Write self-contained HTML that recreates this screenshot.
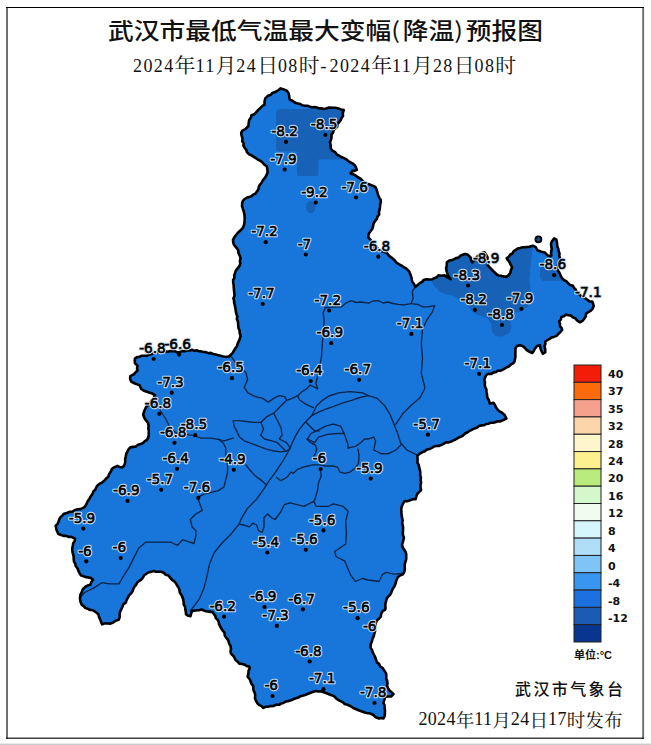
<!DOCTYPE html>
<html><head><meta charset="utf-8"><style>
html,body{margin:0;padding:0;background:#fff;}
body{width:651px;height:745px;position:relative;overflow:hidden;}
.t1{position:absolute;left:108px;top:13px;font-family:"Liberation Sans","Noto Sans CJK SC",sans-serif;font-weight:500;font-size:22.6px;color:#111;white-space:nowrap;transform:scaleX(1.14);transform-origin:0 0;}
.t1 .p{font-family:"Noto Sans CJK SC",sans-serif;font-weight:400;display:inline-block;width:10px;}
.t2{position:absolute;left:133px;top:49px;font-family:"Noto Serif CJK SC",serif;font-size:20.8px;color:#111;white-space:nowrap;}
.d{font-family:"Liberation Serif",serif;font-size:18px;letter-spacing:1.4px;position:relative;top:-0.8px;}
.b1{position:absolute;left:515px;top:676px;font-family:"Noto Sans CJK SC",sans-serif;font-weight:500;font-size:16px;letter-spacing:2.4px;color:#111;white-space:nowrap;}
.b2{position:absolute;left:418.5px;top:705.5px;font-family:"Noto Serif CJK SC",serif;font-size:18.6px;color:#111;white-space:nowrap;}
.d2{font-family:"Liberation Serif",serif;font-size:18px;letter-spacing:0.3px;position:relative;top:-2px;}
</style></head><body>
<svg width="651" height="745" viewBox="0 0 651 745" style="position:absolute;left:0;top:0">
<defs><clipPath id="cp"><path d="M280.7,88.4 L286.8,90.8 L289.1,95.4 L289.9,100.0 L296.0,103.0 L302.2,105.3 L310.0,106.9 L319.0,108.4 L326.1,108.4 L332.3,107.7 L338.4,108.4 L343.8,110.0 L343.0,116.1 L339.2,122.3 L335.4,128.4 L331.5,134.5 L330.0,142.2 L330.8,148.4 L336.9,154.5 L344.6,158.4 L350.0,162.2 L355.3,166.0 L356.9,169.9 L352.3,170.6 L350.7,173.7 L355.3,175.3 L360.0,178.3 L363.8,182.3 L370.0,184.6 L375.3,186.9 L377.6,193.0 L380.7,200.0 L380.0,206.9 L379.2,214.5 L375.3,220.7 L373.0,226.8 L369.2,233.0 L368.4,237.6 L371.5,242.2 L379.2,249.9 L386.9,252.9 L391.5,257.6 L396.1,262.2 L402.2,266.0 L406.1,268.4 L409.2,271.5 L411.5,277.6 L413.8,283.8 L415.4,286.8 L420.0,283.0 L426.1,279.2 L432.3,279.2 L438.4,275.3 L444.5,275.3 L447.6,277.6 L450.7,279.2 L447.6,274.5 L446.1,268.4 L446.9,262.3 L452.2,260.0 L458.4,257.6 L463.0,254.6 L467.6,254.6 L470.7,257.6 L472.2,262.3 L475.3,259.2 L479.9,254.6 L484.5,252.3 L487.6,257.6 L487.6,265.3 L492.2,270.0 L496.8,274.5 L501.1,275.7 L506.6,276.6 L510.3,272.9 L512.1,267.4 L509.4,261.9 L506.6,258.2 L510.3,254.5 L515.8,249.9 L520.0,248.0 L525.5,247.1 L529.2,246.7 L532.9,245.7 L535.7,247.1 L537.5,250.3 L541.2,251.7 L544.9,252.6 L547.6,255.4 L550.4,256.3 L551.3,255.4 L551.8,241.6 L554.1,238.4 L556.4,239.7 L557.3,246.2 L559.6,253.6 L560.1,258.2 L558.7,263.7 L556.9,268.3 L559.6,272.9 L561.0,276.6 L564.2,280.3 L567.9,283.1 L572.9,285.8 L575.7,289.5 L578.5,293.2 L582.2,296.9 L585.9,298.7 L589.5,301.5 L592.2,301.5 L593.7,306.1 L590.6,310.8 L586.0,313.8 L584.5,318.4 L579.9,322.3 L575.3,318.4 L570.7,315.4 L566.0,314.6 L561.4,316.9 L559.1,321.5 L559.9,326.1 L562.2,330.0 L558.4,333.8 L553.8,336.9 L549.2,339.2 L545.3,341.5 L544.5,346.1 L545.3,352.2 L543.0,353.8 L540.7,349.2 L539.9,345.3 L536.9,346.1 L534.6,349.2 L532.3,353.0 L529.2,351.5 L524.6,347.6 L520.0,345.3 L516.9,346.1 L515.4,350.7 L515.4,356.8 L514.6,361.4 L510.8,364.5 L506.1,367.6 L500.0,370.7 L493.5,372.4 L486.1,375.2 L484.2,379.8 L485.2,387.1 L487.0,394.5 L488.8,400.0 L489.8,403.7 L493.5,402.8 L495.3,405.6 L499.0,411.1 L504.5,414.8 L506.4,418.5 L502.7,420.3 L495.3,422.2 L486.1,424.0 L476.9,427.7 L467.6,432.3 L460.3,436.9 L452.9,440.6 L445.5,442.4 L441.4,444.9 L432.2,447.6 L424.8,451.3 L417.4,455.9 L417.4,462.4 L419.3,467.9 L420.2,475.3 L421.1,482.7 L421.1,490.0 L417.4,493.7 L415.6,499.3 L410.0,500.2 L404.5,501.1 L401.8,506.6 L401.8,515.9 L402.7,525.1 L403.0,530.0 L403.9,537.4 L402.0,544.7 L405.7,552.1 L405.7,561.3 L404.8,568.7 L403.0,574.2 L397.4,577.9 L395.6,583.5 L391.9,590.8 L388.2,596.4 L385.4,603.7 L385.4,609.3 L382.7,611.1 L380.8,616.6 L377.1,620.3 L375.3,625.9 L374.4,633.2 L372.5,638.8 L370.7,644.3 L370.5,647.6 L374.1,655.0 L376.9,662.4 L382.4,667.9 L386.1,673.5 L387.1,680.8 L388.0,688.2 L389.5,690.5 L393.5,694.0 L391.0,696.5 L386.5,696.5 L385.2,697.0 L383.4,703.0 L385.0,710.3 L383.5,718.5 L376.9,717.8 L371.4,714.0 L364.0,712.2 L358.5,710.3 L352.9,707.8 L347.4,704.8 L340.0,700.8 L332.7,695.6 L325.3,692.8 L316.1,691.0 L310.6,692.8 L303.2,695.6 L295.8,698.3 L288.4,701.1 L279.2,704.8 L270.6,706.1 L263.2,708.0 L259.5,705.2 L255.9,700.6 L254.9,693.2 L253.1,685.9 L250.3,680.3 L247.6,676.6 L248.5,671.1 L249.4,666.5 L244.8,664.7 L239.3,663.7 L235.6,660.0 L233.7,656.4 L231.0,653.6 L231.0,649.0 L229.1,643.5 L226.4,637.9 L222.7,630.6 L219.0,624.1 L215.3,615.8 L212.5,612.1 L206.1,611.2 L201.5,609.4 L196.9,610.3 L192.4,610.6 L190.6,616.1 L186.0,614.2 L185.1,606.9 L183.2,599.5 L179.5,590.3 L174.0,581.1 L168.5,575.5 L161.1,571.8 L153.7,570.9 L146.4,573.7 L139.0,581.1 L133.5,588.4 L127.9,597.6 L122.4,606.9 L119.6,614.2 L118.7,619.8 L113.2,622.5 L107.6,623.5 L102.1,624.4 L100.3,619.8 L98.4,614.2 L94.7,611.5 L87.4,608.7 L81.8,605.0 L80.0,597.6 L81.8,592.1 L85.5,586.6 L90.3,584.8 L93.0,579.5 L88.4,577.4 L81.1,575.6 L77.4,568.2 L73.7,559.0 L72.3,550.6 L73.2,543.2 L75.0,538.6 L71.3,536.8 L64.0,535.9 L58.4,534.0 L56.6,530.3 L55.7,525.7 L58.4,522.0 L60.3,517.4 L64.0,513.7 L69.5,511.9 L75.0,510.0 L80.6,509.1 L84.2,507.3 L87.9,500.8 L91.6,495.3 L95.3,489.8 L99.0,484.2 L104.5,480.6 L108.2,476.9 L111.0,471.3 L113.7,467.6 L117.4,465.8 L122.0,467.6 L124.8,464.0 L125.7,456.6 L127.6,451.1 L130.3,447.4 L135.9,446.5 L143.2,442.8 L146.9,440.0 L148.7,433.2 L148.7,425.9 L145.9,420.3 L143.2,414.8 L145.0,409.3 L148.7,404.7 L152.4,400.0 L155.2,395.4 L152.4,393.6 L146.9,391.8 L141.3,389.0 L139.5,385.3 L134.9,383.5 L131.2,381.6 L130.3,376.1 L134.0,374.2 L137.6,370.6 L137.6,365.9 L134.9,363.2 L134.9,358.6 L139.5,356.7 L146.9,355.8 L156.1,352.1 L165.3,351.2 L172.7,351.2 L180.0,352.1 L187.4,350.3 L196.6,350.3 L205.9,352.1 L213.2,354.0 L220.6,355.8 L229.0,356.5 L231.3,354.3 L235.0,348.8 L237.8,343.2 L240.6,335.9 L239.6,330.3 L237.8,321.1 L235.9,311.9 L234.1,302.7 L234.1,291.6 L233.2,282.4 L235.0,273.2 L239.6,265.8 L240.6,258.4 L238.4,253.0 L236.9,248.3 L233.8,244.5 L233.0,239.9 L234.6,236.8 L238.4,232.2 L243.0,227.6 L244.5,221.4 L244.5,215.3 L243.0,209.2 L242.2,203.0 L244.5,199.2 L249.2,196.9 L255.3,193.8 L258.4,189.2 L261.4,183.0 L264.5,178.4 L267.6,172.3 L266.8,166.5 L262.0,162.0 L256.1,158.3 L251.5,155.3 L246.9,152.2 L244.6,147.6 L242.3,141.4 L241.5,135.3 L242.3,130.7 L245.4,129.2 L248.4,126.0 L249.2,120.0 L251.5,115.3 L256.1,112.3 L260.7,107.6 L264.6,104.6 L265.3,98.4 L268.4,95.4 L274.5,92.3 L276.1,91.5 Z"/></clipPath></defs>
<rect x="6" y="7" width="2" height="732" fill="#6e6e6e"/>
<rect x="642.2" y="7" width="1.9" height="732" fill="#6e6e6e"/>
<rect x="6" y="7" width="638" height="1" fill="#000"/>
<rect x="6" y="737.6" width="638" height="1.2" fill="#111"/>
<rect x="0" y="743.6" width="651" height="1.4" fill="#c9cacd"/>
<path d="M280.7,88.4 L286.8,90.8 L289.1,95.4 L289.9,100.0 L296.0,103.0 L302.2,105.3 L310.0,106.9 L319.0,108.4 L326.1,108.4 L332.3,107.7 L338.4,108.4 L343.8,110.0 L343.0,116.1 L339.2,122.3 L335.4,128.4 L331.5,134.5 L330.0,142.2 L330.8,148.4 L336.9,154.5 L344.6,158.4 L350.0,162.2 L355.3,166.0 L356.9,169.9 L352.3,170.6 L350.7,173.7 L355.3,175.3 L360.0,178.3 L363.8,182.3 L370.0,184.6 L375.3,186.9 L377.6,193.0 L380.7,200.0 L380.0,206.9 L379.2,214.5 L375.3,220.7 L373.0,226.8 L369.2,233.0 L368.4,237.6 L371.5,242.2 L379.2,249.9 L386.9,252.9 L391.5,257.6 L396.1,262.2 L402.2,266.0 L406.1,268.4 L409.2,271.5 L411.5,277.6 L413.8,283.8 L415.4,286.8 L420.0,283.0 L426.1,279.2 L432.3,279.2 L438.4,275.3 L444.5,275.3 L447.6,277.6 L450.7,279.2 L447.6,274.5 L446.1,268.4 L446.9,262.3 L452.2,260.0 L458.4,257.6 L463.0,254.6 L467.6,254.6 L470.7,257.6 L472.2,262.3 L475.3,259.2 L479.9,254.6 L484.5,252.3 L487.6,257.6 L487.6,265.3 L492.2,270.0 L496.8,274.5 L501.1,275.7 L506.6,276.6 L510.3,272.9 L512.1,267.4 L509.4,261.9 L506.6,258.2 L510.3,254.5 L515.8,249.9 L520.0,248.0 L525.5,247.1 L529.2,246.7 L532.9,245.7 L535.7,247.1 L537.5,250.3 L541.2,251.7 L544.9,252.6 L547.6,255.4 L550.4,256.3 L551.3,255.4 L551.8,241.6 L554.1,238.4 L556.4,239.7 L557.3,246.2 L559.6,253.6 L560.1,258.2 L558.7,263.7 L556.9,268.3 L559.6,272.9 L561.0,276.6 L564.2,280.3 L567.9,283.1 L572.9,285.8 L575.7,289.5 L578.5,293.2 L582.2,296.9 L585.9,298.7 L589.5,301.5 L592.2,301.5 L593.7,306.1 L590.6,310.8 L586.0,313.8 L584.5,318.4 L579.9,322.3 L575.3,318.4 L570.7,315.4 L566.0,314.6 L561.4,316.9 L559.1,321.5 L559.9,326.1 L562.2,330.0 L558.4,333.8 L553.8,336.9 L549.2,339.2 L545.3,341.5 L544.5,346.1 L545.3,352.2 L543.0,353.8 L540.7,349.2 L539.9,345.3 L536.9,346.1 L534.6,349.2 L532.3,353.0 L529.2,351.5 L524.6,347.6 L520.0,345.3 L516.9,346.1 L515.4,350.7 L515.4,356.8 L514.6,361.4 L510.8,364.5 L506.1,367.6 L500.0,370.7 L493.5,372.4 L486.1,375.2 L484.2,379.8 L485.2,387.1 L487.0,394.5 L488.8,400.0 L489.8,403.7 L493.5,402.8 L495.3,405.6 L499.0,411.1 L504.5,414.8 L506.4,418.5 L502.7,420.3 L495.3,422.2 L486.1,424.0 L476.9,427.7 L467.6,432.3 L460.3,436.9 L452.9,440.6 L445.5,442.4 L441.4,444.9 L432.2,447.6 L424.8,451.3 L417.4,455.9 L417.4,462.4 L419.3,467.9 L420.2,475.3 L421.1,482.7 L421.1,490.0 L417.4,493.7 L415.6,499.3 L410.0,500.2 L404.5,501.1 L401.8,506.6 L401.8,515.9 L402.7,525.1 L403.0,530.0 L403.9,537.4 L402.0,544.7 L405.7,552.1 L405.7,561.3 L404.8,568.7 L403.0,574.2 L397.4,577.9 L395.6,583.5 L391.9,590.8 L388.2,596.4 L385.4,603.7 L385.4,609.3 L382.7,611.1 L380.8,616.6 L377.1,620.3 L375.3,625.9 L374.4,633.2 L372.5,638.8 L370.7,644.3 L370.5,647.6 L374.1,655.0 L376.9,662.4 L382.4,667.9 L386.1,673.5 L387.1,680.8 L388.0,688.2 L389.5,690.5 L393.5,694.0 L391.0,696.5 L386.5,696.5 L385.2,697.0 L383.4,703.0 L385.0,710.3 L383.5,718.5 L376.9,717.8 L371.4,714.0 L364.0,712.2 L358.5,710.3 L352.9,707.8 L347.4,704.8 L340.0,700.8 L332.7,695.6 L325.3,692.8 L316.1,691.0 L310.6,692.8 L303.2,695.6 L295.8,698.3 L288.4,701.1 L279.2,704.8 L270.6,706.1 L263.2,708.0 L259.5,705.2 L255.9,700.6 L254.9,693.2 L253.1,685.9 L250.3,680.3 L247.6,676.6 L248.5,671.1 L249.4,666.5 L244.8,664.7 L239.3,663.7 L235.6,660.0 L233.7,656.4 L231.0,653.6 L231.0,649.0 L229.1,643.5 L226.4,637.9 L222.7,630.6 L219.0,624.1 L215.3,615.8 L212.5,612.1 L206.1,611.2 L201.5,609.4 L196.9,610.3 L192.4,610.6 L190.6,616.1 L186.0,614.2 L185.1,606.9 L183.2,599.5 L179.5,590.3 L174.0,581.1 L168.5,575.5 L161.1,571.8 L153.7,570.9 L146.4,573.7 L139.0,581.1 L133.5,588.4 L127.9,597.6 L122.4,606.9 L119.6,614.2 L118.7,619.8 L113.2,622.5 L107.6,623.5 L102.1,624.4 L100.3,619.8 L98.4,614.2 L94.7,611.5 L87.4,608.7 L81.8,605.0 L80.0,597.6 L81.8,592.1 L85.5,586.6 L90.3,584.8 L93.0,579.5 L88.4,577.4 L81.1,575.6 L77.4,568.2 L73.7,559.0 L72.3,550.6 L73.2,543.2 L75.0,538.6 L71.3,536.8 L64.0,535.9 L58.4,534.0 L56.6,530.3 L55.7,525.7 L58.4,522.0 L60.3,517.4 L64.0,513.7 L69.5,511.9 L75.0,510.0 L80.6,509.1 L84.2,507.3 L87.9,500.8 L91.6,495.3 L95.3,489.8 L99.0,484.2 L104.5,480.6 L108.2,476.9 L111.0,471.3 L113.7,467.6 L117.4,465.8 L122.0,467.6 L124.8,464.0 L125.7,456.6 L127.6,451.1 L130.3,447.4 L135.9,446.5 L143.2,442.8 L146.9,440.0 L148.7,433.2 L148.7,425.9 L145.9,420.3 L143.2,414.8 L145.0,409.3 L148.7,404.7 L152.4,400.0 L155.2,395.4 L152.4,393.6 L146.9,391.8 L141.3,389.0 L139.5,385.3 L134.9,383.5 L131.2,381.6 L130.3,376.1 L134.0,374.2 L137.6,370.6 L137.6,365.9 L134.9,363.2 L134.9,358.6 L139.5,356.7 L146.9,355.8 L156.1,352.1 L165.3,351.2 L172.7,351.2 L180.0,352.1 L187.4,350.3 L196.6,350.3 L205.9,352.1 L213.2,354.0 L220.6,355.8 L229.0,356.5 L231.3,354.3 L235.0,348.8 L237.8,343.2 L240.6,335.9 L239.6,330.3 L237.8,321.1 L235.9,311.9 L234.1,302.7 L234.1,291.6 L233.2,282.4 L235.0,273.2 L239.6,265.8 L240.6,258.4 L238.4,253.0 L236.9,248.3 L233.8,244.5 L233.0,239.9 L234.6,236.8 L238.4,232.2 L243.0,227.6 L244.5,221.4 L244.5,215.3 L243.0,209.2 L242.2,203.0 L244.5,199.2 L249.2,196.9 L255.3,193.8 L258.4,189.2 L261.4,183.0 L264.5,178.4 L267.6,172.3 L266.8,166.5 L262.0,162.0 L256.1,158.3 L251.5,155.3 L246.9,152.2 L244.6,147.6 L242.3,141.4 L241.5,135.3 L242.3,130.7 L245.4,129.2 L248.4,126.0 L249.2,120.0 L251.5,115.3 L256.1,112.3 L260.7,107.6 L264.6,104.6 L265.3,98.4 L268.4,95.4 L274.5,92.3 L276.1,91.5 Z" fill="#1876db"/>
<g clip-path="url(#cp)" fill="#1762b6">
<path d="M276,113 Q276,109 280,109 L352,109 L352,159.5 L318.5,159.5 L318.5,173.5 Q318.5,176 316,176 L299.5,176 Q297,176 297,173.5 L297,151.5 L278.5,151.5 Q276,151.5 276,149 Z"/>
<path d="M310.7,201.3 C314,201.3 315.3,204 315.3,207.2 C315.3,210.8 313.6,213.2 310.7,213.2 C307.6,213.2 306.2,210.6 306.2,207.2 C306.2,204 307.6,201.3 310.7,201.3 Z"/>
<path d="M431.0,281.0 L435.0,286.5 L439.0,291.5 L445.0,294.0 L452.0,295.5 L459.0,298.5 L464.5,302.5 L469.0,307.0 L472.0,311.5 L476.3,314.6 L487.4,318.3 L491.0,323.8 L492.0,331.2 L494.8,335.8 L502.2,336.7 L509.5,333.0 L511.4,327.5 L510.4,318.3 L513.2,312.5 L520.9,312.0 L528.3,306.3 L530.7,294.1 L529.5,279.3 L530.7,264.6 L532.0,252.3 L533.2,240.0 L533.0,225.0 L425.0,225.0 Z"/>
<path d="M545,266 L562,266 L562,281 L545,281 Q540,281 540,276 L540,271 Q540,266 545,266 Z"/>
</g>
<g fill="none" stroke="#0a2448" stroke-width="1.35" stroke-linejoin="round" stroke-linecap="round">
<path d="M368.2,395.7 L362.7,392.9 L350.0,391.7 L338.8,392.9 L329.0,396.0 L321.6,400.9 L316.7,405.8 L314.2,410.7 L311.8,415.6 L305.6,421.8 L299.5,429.1 L294.6,437.7 L289.7,448.8 L283.5,460.0 L275.6,472.2 L270.0,479.5 L262.7,490.6 L256.6,499.2 L247.4,508.4 L241.9,517.6 L239.1,524.1 L230.8,534.2 L221.6,543.5 L214.2,552.7 L209.6,563.7 L206.9,576.6 L204.1,587.7 L199.5,598.8 L194.0,606.1 L190.3,611.0"/>
<path d="M311.8,415.6 L319.1,411.9 L326.5,408.9 L335.1,405.8 L343.7,402.7 L351.6,400.3 L360.0,397.5 L368.2,395.7"/>
<path d="M368.2,395.7 L377.4,398.4 L384.8,405.8 L390.3,415.0 L394.0,424.2 L397.7,433.5 L400.5,442.7 L406.9,450.0 L414.3,453.7 L418.0,455.5"/>
<path d="M415.4,286.8 L412.3,291.4 L413.0,299.0 L410.8,303.7 L417.6,304.4 L423.0,306.8 L427.4,306.9 L434.8,305.6 L432.3,311.8 L427.4,319.1 L422.5,329.0 L421.3,343.7 L422.5,358.5 L421.3,373.2 L425.0,388.0 L420.0,397.8 L410.6,405.8 L403.2,413.2 L395.9,424.2"/>
<path d="M325.1,307.6 L333.0,307.0 L341.4,306.9 L346.0,303.0 L351.3,300.7 L356.0,302.5 L361.1,302.0 L368.5,303.2 L373.0,301.0 L378.3,300.7 L383.0,303.0 L388.1,302.0 L393.0,303.5 L398.0,304.4 L404.0,304.8 L410.8,303.7"/>
<path d="M325.1,307.6 L323.2,313.2 L324.1,320.6 L323.2,331.6 L322.3,344.5 L321.4,357.4 L319.5,366.6 L317.7,375.9 L315.9,383.2 L317.7,388.8 L314.0,386.9 L310.3,385.1 L306.6,388.8 L301.1,392.4 L297.7,395.7 L292.2,398.4 L286.6,400.3 L284.8,396.6 L279.3,395.7 L273.7,398.4 L268.2,402.1 L262.7,398.4 L255.3,396.6 L247.9,392.9 L244.2,387.4 L247.6,379.5 L245.8,372.2 L238.4,366.6 L231.5,357.0"/>
<path d="M286.6,400.3 L281.1,405.8 L273.7,413.2 L266.4,416.9 L260.8,422.4 L253.5,422.4 L246.1,421.5 L238.7,420.6 L233.2,420.6 L234.1,426.1 L236.9,431.6 L239.6,437.1 L244.2,440.8 L251.6,443.6 L259.0,446.4 L266.4,449.1 L273.7,451.0 L281.1,451.9 L286.6,451.0 L289.7,448.8"/>
<path d="M260.8,422.4 L263.6,428.8 L260.8,435.3 L264.5,439.0 L271.9,440.8 L277.4,442.7 L281.1,446.4 L284.8,450.0"/>
<path d="M273.7,413.2 L277.4,420.6 L281.1,427.9 L282.0,435.3 L279.3,439.0 L286.6,442.7 L290.3,448.2"/>
<path d="M297.7,395.7 L299.5,399.7 L304.4,403.3 L309.3,405.8 L313.6,407.6"/>
<path d="M155.0,397.0 L160.5,411.0 L165.5,418.5 L169.1,425.8 L172.8,430.7 L179.0,434.4 L186.3,434.4 L193.7,435.7 L201.1,438.1 L210.9,438.1 L218.3,439.3 L223.2,443.0 L225.7,447.9 L225.7,457.8 L227.6,464.8 L227.6,472.2 L225.8,479.5 L224.0,486.9 L218.4,490.6 L211.0,492.4 L203.7,494.3 L197.6,497.4 L199.5,502.9 L202.3,510.3 L195.8,514.0 L190.3,519.5 L192.1,526.9 L195.8,530.6 L195.8,536.1 L194.0,543.5 L188.4,541.6 L182.9,539.8 L177.4,545.3 L170.6,542.1 L158.3,542.1 L146.0,542.1 L138.6,548.3 L133.7,558.1 L128.8,567.9 L123.9,575.3 L119.0,583.9 L109.1,583.9 L101.8,582.7 L94.4,587.6 L84.6,592.5 L80.5,597.4"/>
<path d="M218.3,439.3 L224.0,440.8 L233.2,438.1"/>
<path d="M246.0,465.0 L249.0,469.0 L255.3,475.9 L262.7,481.4 L266.4,485.1"/>
<path d="M239.1,524.1 L243.7,525.0 L249.3,526.9 L252.9,523.2 L256.6,525.0 L258.5,530.6 L262.2,532.4 L264.0,526.9 L264.0,517.6 L267.7,514.0 L271.4,517.6 L275.1,519.5 L280.6,512.1 L284.3,504.7 L290.0,502.9 L294.1,503.9 L303.9,506.3 L313.7,501.4 L316.2,506.3 L328.5,506.3 L333.4,503.9 L343.2,506.3 L348.1,511.3 L345.7,521.1 L346.4,533.4 L345.7,544.0 L334.7,551.5 L336.0,556.5 L344.8,561.2 L350.6,575.1 L355.5,581.5 L362.4,578.5 L367.8,580.0 L372.0,580.5 L379.0,581.5 L382.7,574.2 L386.4,572.4 L393.7,574.2 L403.0,573.5"/>
<path d="M320.3,468.5 L321.2,475.9 L318.4,483.2 L317.5,490.6 L314.7,500.0 L313.7,501.4"/>
<path d="M276.5,477.5 L281.0,480.7 L287.2,477.0 L290.9,472.1 L293.4,473.4 L297.0,469.7 L303.2,467.2 L308.1,466.0 L313.0,464.8 L320.4,464.8 L325.3,466.0 L332.7,466.0 L337.6,467.2 L340.0,472.1 L345.0,473.4 L349.9,472.1 L354.8,468.5 L358.5,463.5 L359.0,455.0 L358.0,449.0"/>
<path d="M307.4,439.0 L311.0,433.5 L318.4,429.8 L325.8,426.1 L333.2,424.2 L340.6,426.1 L344.2,433.5 L347.9,444.5 L347.9,448.2 L355.3,446.4 L360.8,442.7 L364.5,439.0 L368.2,439.0 L373.7,437.1 L375.6,440.8 L373.7,450.0 L381.1,453.7 L388.5,453.7 L395.9,450.0 L401.4,444.5"/>
<path d="M307.4,439.0 L314.7,442.7 L318.4,437.1 L327.6,434.4 L336.9,433.5 L344.2,433.5"/>
<path d="M305.6,421.8 L310.5,426.7 L314.2,430.4 L319.1,431.0"/>
<path d="M306.9,439.0 L310.5,442.7 L315.5,445.1 L316.7,448.8 L315.5,453.7 L313.0,457.4"/>
</g>
<path d="M280.7,88.4 L283.8,89.4 L286.8,90.8 L288.4,92.9 L289.1,95.4 L289.3,97.7 L289.9,100.0 L292.2,100.5 L293.9,102.0 L296.0,103.0 L298.1,103.6 L300.3,104.0 L302.2,105.3 L304.8,105.8 L307.5,105.7 L310.0,106.9 L312.3,107.2 L314.6,107.1 L316.8,107.5 L319.0,108.4 L321.4,108.3 L323.7,108.9 L326.1,108.4 L329.1,107.5 L332.3,107.7 L335.4,107.7 L338.4,108.4 L341.0,109.4 L343.8,110.0 L342.8,113.0 L343.0,116.1 L341.6,118.1 L340.6,120.3 L339.2,122.3 L337.4,124.0 L337.2,126.7 L335.4,128.4 L333.7,130.2 L333.0,132.6 L331.5,134.5 L331.5,137.2 L331.0,139.7 L330.0,142.2 L330.7,145.3 L330.8,148.4 L332.5,150.7 L335.2,152.2 L336.9,154.5 L339.4,155.9 L341.9,157.3 L344.6,158.4 L346.5,159.5 L348.2,161.0 L350.0,162.2 L353.0,163.6 L355.3,166.0 L356.9,169.9 L354.7,170.9 L352.3,170.6 L350.7,173.7 L353.1,174.1 L355.3,175.3 L357.5,177.0 L360.0,178.3 L362.0,180.2 L363.8,182.3 L366.0,182.8 L367.9,183.9 L370.0,184.6 L372.7,185.7 L375.3,186.9 L376.7,189.9 L377.6,193.0 L378.3,195.5 L379.4,197.8 L380.7,200.0 L380.8,202.3 L380.1,204.6 L380.0,206.9 L379.7,209.4 L378.9,211.9 L379.2,214.5 L377.6,216.4 L376.9,218.8 L375.3,220.7 L373.5,223.5 L373.0,226.8 L372.2,229.1 L370.6,231.0 L369.2,233.0 L368.4,235.2 L368.4,237.6 L370.4,239.6 L371.5,242.2 L373.4,244.1 L375.8,245.6 L377.1,248.1 L379.2,249.9 L381.6,251.2 L384.3,252.0 L386.9,252.9 L388.8,255.6 L391.5,257.6 L394.0,259.7 L396.1,262.2 L398.0,263.7 L400.1,264.8 L402.2,266.0 L404.1,267.3 L406.1,268.4 L409.2,271.5 L410.4,274.5 L411.5,277.6 L411.8,279.8 L412.4,281.9 L413.8,283.8 L415.4,286.8 L417.7,284.9 L420.0,283.0 L422.2,281.9 L423.7,279.9 L426.1,279.2 L429.2,279.5 L432.3,279.2 L434.4,278.1 L436.7,277.2 L438.4,275.3 L441.4,275.8 L444.5,275.3 L447.6,277.6 L450.7,279.2 L448.9,277.0 L447.6,274.5 L446.7,271.5 L446.1,268.4 L446.7,265.4 L446.9,262.3 L449.3,260.5 L452.2,260.0 L454.2,259.1 L456.2,258.0 L458.4,257.6 L460.4,255.7 L463.0,254.6 L465.3,254.0 L467.6,254.6 L470.7,257.6 L471.1,260.1 L472.2,262.3 L475.3,259.2 L477.2,256.5 L479.9,254.6 L482.0,253.1 L484.5,252.3 L486.2,254.9 L487.6,257.6 L487.1,260.2 L488.2,262.7 L487.6,265.3 L490.0,267.6 L492.2,270.0 L494.5,272.3 L496.8,274.5 L498.8,275.6 L501.1,275.7 L503.8,276.6 L506.6,276.6 L508.8,275.1 L510.3,272.9 L510.9,270.1 L512.1,267.4 L510.6,264.7 L509.4,261.9 L507.8,260.2 L506.6,258.2 L508.8,256.7 L510.3,254.5 L512.5,253.5 L513.7,251.1 L515.8,249.9 L517.7,248.5 L520.0,248.0 L522.7,247.2 L525.5,247.1 L529.2,246.7 L532.9,245.7 L535.7,247.1 L537.5,250.3 L541.2,251.7 L544.9,252.6 L547.6,255.4 L550.4,256.3 L551.3,255.4 L551.0,253.1 L551.4,250.8 L551.7,248.5 L551.3,246.2 L551.0,243.9 L551.8,241.6 L554.1,238.4 L556.4,239.7 L557.0,242.9 L557.3,246.2 L558.2,248.6 L558.7,251.2 L559.6,253.6 L559.2,256.0 L560.1,258.2 L559.1,260.9 L558.7,263.7 L557.8,266.0 L556.9,268.3 L558.1,270.7 L559.6,272.9 L561.0,276.6 L562.4,278.6 L564.2,280.3 L566.4,281.2 L567.9,283.1 L570.1,284.9 L572.9,285.8 L574.0,287.9 L575.7,289.5 L576.7,291.7 L578.5,293.2 L580.1,295.3 L582.2,296.9 L585.9,298.7 L587.8,300.0 L589.5,301.5 L592.2,301.5 L593.1,303.8 L593.7,306.1 L592.6,308.8 L590.6,310.8 L588.2,312.1 L586.0,313.8 L585.8,316.3 L584.5,318.4 L582.6,320.8 L579.9,322.3 L577.3,320.7 L575.3,318.4 L572.7,317.3 L570.7,315.4 L568.3,315.2 L566.0,314.6 L564.0,316.3 L561.4,316.9 L560.9,319.5 L559.1,321.5 L560.0,323.7 L559.9,326.1 L561.5,327.8 L562.2,330.0 L560.4,332.0 L558.4,333.8 L556.5,335.9 L553.8,336.9 L551.3,337.6 L549.2,339.2 L547.2,340.2 L545.3,341.5 L545.4,343.9 L544.5,346.1 L545.2,349.1 L545.3,352.2 L543.0,353.8 L541.7,351.6 L540.7,349.2 L539.9,345.3 L536.9,346.1 L534.6,349.2 L533.6,351.2 L532.3,353.0 L529.2,351.5 L526.6,350.0 L524.6,347.6 L522.5,346.0 L520.0,345.3 L516.9,346.1 L515.5,348.2 L515.4,350.7 L515.4,353.8 L515.4,356.8 L515.0,359.1 L514.6,361.4 L513.1,363.4 L510.8,364.5 L508.8,366.5 L506.1,367.6 L504.2,368.8 L502.2,370.0 L500.0,370.7 L497.7,370.8 L495.8,372.3 L493.5,372.4 L491.3,374.0 L488.3,373.7 L486.1,375.2 L485.1,377.5 L484.2,379.8 L485.0,382.2 L484.8,384.7 L485.2,387.1 L486.4,389.4 L486.4,392.0 L487.0,394.5 L487.3,397.5 L488.8,400.0 L489.8,403.7 L493.5,402.8 L495.3,405.6 L496.1,407.7 L497.5,409.4 L499.0,411.1 L501.0,412.1 L502.8,413.4 L504.5,414.8 L506.4,418.5 L502.7,420.3 L500.3,421.4 L497.7,421.2 L495.3,422.2 L493.0,422.6 L490.6,422.7 L488.4,423.8 L486.1,424.0 L483.9,425.3 L481.3,425.4 L478.9,426.1 L476.9,427.7 L474.4,428.4 L472.1,429.6 L469.7,430.8 L467.6,432.3 L465.0,433.5 L462.9,435.7 L460.3,436.9 L457.8,438.1 L455.5,439.5 L452.9,440.6 L450.6,441.8 L448.1,442.4 L445.5,442.4 L443.6,443.9 L441.4,444.9 L439.2,445.9 L436.7,446.0 L434.3,446.3 L432.2,447.6 L429.8,448.9 L427.0,449.5 L424.8,451.3 L422.0,452.3 L419.5,453.8 L417.4,455.9 L417.6,459.1 L417.4,462.4 L418.7,465.0 L419.3,467.9 L420.0,470.3 L420.3,472.8 L420.2,475.3 L420.9,477.7 L420.6,480.3 L421.1,482.7 L420.5,485.1 L420.6,487.6 L421.1,490.0 L419.3,491.9 L417.4,493.7 L416.3,496.4 L415.6,499.3 L412.7,499.3 L410.0,500.2 L407.3,501.2 L404.5,501.1 L402.9,503.8 L401.8,506.6 L401.2,508.9 L401.4,511.2 L401.4,513.6 L401.8,515.9 L402.1,518.2 L402.7,520.5 L402.1,522.8 L402.7,525.1 L403.1,527.5 L403.0,530.0 L402.9,532.5 L402.9,535.0 L403.9,537.4 L403.4,539.9 L402.8,542.3 L402.0,544.7 L402.7,547.4 L404.2,549.8 L405.7,552.1 L406.2,554.4 L406.2,556.7 L406.2,559.0 L405.7,561.3 L404.8,563.7 L404.7,566.2 L404.8,568.7 L404.4,571.6 L403.0,574.2 L400.9,575.1 L398.9,576.1 L397.4,577.9 L396.3,580.6 L395.6,583.5 L394.6,586.0 L393.1,588.3 L391.9,590.8 L391.1,593.0 L390.0,594.9 L388.2,596.4 L386.7,598.6 L386.1,601.2 L385.4,603.7 L385.4,606.5 L385.4,609.3 L382.7,611.1 L381.2,613.7 L380.8,616.6 L379.0,618.5 L377.1,620.3 L375.7,622.9 L375.3,625.9 L374.5,628.3 L375.1,630.8 L374.4,633.2 L373.8,636.1 L372.5,638.8 L371.9,641.6 L370.7,644.3 L370.5,647.6 L372.0,649.9 L372.8,652.6 L374.1,655.0 L375.3,657.3 L376.1,659.9 L376.9,662.4 L379.1,663.9 L380.2,666.5 L382.4,667.9 L383.8,669.7 L384.9,671.6 L386.1,673.5 L386.3,675.9 L386.2,678.4 L387.1,680.8 L387.5,683.3 L387.1,685.8 L388.0,688.2 L389.5,690.5 L391.5,692.3 L393.5,694.0 L391.0,696.5 L388.8,696.5 L386.5,696.5 L385.2,697.0 L384.3,700.0 L383.4,703.0 L384.6,705.3 L384.5,707.8 L385.0,710.3 L384.9,713.1 L384.7,715.9 L383.5,718.5 L381.3,717.9 L379.1,718.5 L376.9,717.8 L375.0,716.6 L373.4,715.0 L371.4,714.0 L369.0,713.3 L366.4,713.0 L364.0,712.2 L361.3,711.2 L358.5,710.3 L355.7,709.0 L352.9,707.8 L350.3,706.0 L347.4,704.8 L344.7,704.0 L342.5,702.1 L340.0,700.8 L338.0,699.8 L336.2,698.5 L334.7,696.6 L332.7,695.6 L330.2,694.7 L327.8,693.7 L325.3,692.8 L323.1,692.0 L320.8,691.3 L318.4,691.5 L316.1,691.0 L313.3,691.8 L310.6,692.8 L308.1,693.7 L305.7,694.7 L303.2,695.6 L300.6,696.2 L298.3,697.5 L295.8,698.3 L293.3,699.2 L290.9,700.2 L288.4,701.1 L285.9,701.5 L283.7,702.7 L281.3,703.4 L279.2,704.8 L276.2,704.6 L273.5,706.0 L270.6,706.1 L268.1,706.7 L265.5,706.8 L263.2,708.0 L261.6,706.2 L259.5,705.2 L257.3,703.2 L255.9,700.6 L255.0,698.2 L255.2,695.7 L254.9,693.2 L253.7,690.9 L253.3,688.4 L253.1,685.9 L251.2,683.4 L250.3,680.3 L249.1,678.3 L247.6,676.6 L248.4,673.9 L248.5,671.1 L249.5,668.9 L249.4,666.5 L246.9,666.1 L244.8,664.7 L242.1,663.9 L239.3,663.7 L237.6,661.7 L235.6,660.0 L233.7,656.4 L231.0,653.6 L230.5,651.3 L231.0,649.0 L230.6,646.1 L229.1,643.5 L228.3,640.4 L226.4,637.9 L224.8,635.6 L224.5,632.7 L222.7,630.6 L221.3,628.5 L220.2,626.3 L219.0,624.1 L218.7,621.7 L217.6,619.8 L215.8,618.1 L215.3,615.8 L213.8,614.0 L212.5,612.1 L209.3,611.6 L206.1,611.2 L203.7,610.5 L201.5,609.4 L199.3,610.3 L196.9,610.3 L194.7,610.7 L192.4,610.6 L191.2,613.3 L190.6,616.1 L188.0,615.8 L186.0,614.2 L185.8,611.8 L185.3,609.3 L185.1,606.9 L183.8,604.6 L183.6,602.0 L183.2,599.5 L182.4,597.1 L181.4,594.9 L179.9,592.8 L179.5,590.3 L178.7,587.7 L177.1,585.5 L175.9,583.1 L174.0,581.1 L171.8,579.6 L170.1,577.6 L168.5,575.5 L165.7,574.8 L163.7,572.7 L161.1,571.8 L158.6,571.8 L156.1,571.7 L153.7,570.9 L151.3,571.9 L148.6,572.2 L146.4,573.7 L144.2,575.2 L142.9,577.6 L141.2,579.6 L139.0,581.1 L137.2,582.6 L136.2,584.7 L134.7,586.4 L133.5,588.4 L132.6,591.0 L131.2,593.3 L129.1,595.2 L127.9,597.6 L126.6,600.0 L125.7,602.6 L123.2,604.3 L122.4,606.9 L121.3,609.3 L120.1,611.6 L119.6,614.2 L119.7,617.1 L118.7,619.8 L115.7,620.7 L113.2,622.5 L110.5,623.6 L107.6,623.5 L104.8,623.4 L102.1,624.4 L101.1,622.1 L100.3,619.8 L99.1,617.1 L98.4,614.2 L96.6,612.8 L94.7,611.5 L92.5,610.0 L89.7,609.9 L87.4,608.7 L85.2,607.9 L83.7,606.2 L81.8,605.0 L80.8,602.6 L80.1,600.2 L80.0,597.6 L80.4,594.7 L81.8,592.1 L82.5,589.9 L83.9,588.2 L85.5,586.6 L87.8,585.5 L90.3,584.8 L91.4,582.0 L93.0,579.5 L90.9,578.1 L88.4,577.4 L85.9,577.1 L83.5,576.2 L81.1,575.6 L79.5,573.3 L78.4,570.8 L77.4,568.2 L75.8,566.2 L75.2,563.7 L74.0,561.6 L73.7,559.0 L73.6,556.1 L72.8,553.4 L72.3,550.6 L72.2,548.1 L72.9,545.7 L73.2,543.2 L74.7,541.1 L75.0,538.6 L71.3,536.8 L68.8,537.0 L66.5,535.8 L64.0,535.9 L61.2,535.0 L58.4,534.0 L56.6,530.3 L56.1,528.0 L55.7,525.7 L57.4,524.1 L58.4,522.0 L59.2,519.6 L60.3,517.4 L62.2,515.6 L64.0,513.7 L66.8,513.0 L69.5,511.9 L72.5,511.6 L75.0,510.0 L77.8,509.3 L80.6,509.1 L84.2,507.3 L85.8,505.4 L86.9,503.1 L87.9,500.8 L89.3,499.1 L90.3,497.1 L91.6,495.3 L92.7,493.3 L93.5,491.3 L95.3,489.8 L96.1,487.6 L97.3,485.7 L99.0,484.2 L101.9,482.7 L104.5,480.6 L106.1,478.5 L108.2,476.9 L109.2,473.9 L111.0,471.3 L111.9,469.1 L113.7,467.6 L117.4,465.8 L119.5,467.1 L122.0,467.6 L123.8,466.1 L124.8,464.0 L125.3,461.6 L125.1,459.0 L125.7,456.6 L126.3,453.7 L127.6,451.1 L128.7,449.1 L130.3,447.4 L133.1,446.9 L135.9,446.5 L138.1,444.8 L140.7,444.0 L143.2,442.8 L144.8,441.1 L146.9,440.0 L148.1,437.9 L148.7,435.6 L148.7,433.2 L148.8,430.8 L148.3,428.3 L148.7,425.9 L147.9,422.8 L145.9,420.3 L144.3,417.7 L143.2,414.8 L143.9,412.0 L145.0,409.3 L146.3,406.6 L148.7,404.7 L150.4,402.2 L152.4,400.0 L153.8,397.7 L155.2,395.4 L152.4,393.6 L149.7,392.7 L146.9,391.8 L143.9,390.8 L141.3,389.0 L139.5,385.3 L137.2,384.4 L134.9,383.5 L131.2,381.6 L130.1,379.0 L130.3,376.1 L134.0,374.2 L135.6,372.2 L137.6,370.6 L137.0,368.2 L137.6,365.9 L134.9,363.2 L134.8,360.9 L134.9,358.6 L137.0,357.1 L139.5,356.7 L141.9,355.7 L144.4,355.8 L146.9,355.8 L149.1,354.5 L151.5,354.1 L153.8,353.1 L156.1,352.1 L158.4,352.2 L160.7,351.9 L163.0,351.7 L165.3,351.2 L167.8,351.7 L170.2,351.0 L172.7,351.2 L175.2,351.3 L177.5,352.5 L180.0,352.1 L182.4,351.0 L185.0,351.2 L187.4,350.3 L189.7,350.5 L192.0,349.7 L194.3,350.8 L196.6,350.3 L198.8,351.3 L201.2,351.4 L203.5,352.0 L205.9,352.1 L208.2,353.2 L210.9,352.9 L213.2,354.0 L215.7,354.6 L218.1,355.2 L220.6,355.8 L223.4,356.5 L226.2,356.7 L229.0,356.5 L231.3,354.3 L232.9,352.7 L233.9,350.7 L235.0,348.8 L236.9,346.2 L237.8,343.2 L239.0,340.9 L239.9,338.4 L240.6,335.9 L239.7,333.2 L239.6,330.3 L238.5,328.1 L238.2,325.8 L238.1,323.4 L237.8,321.1 L236.8,318.9 L237.3,316.4 L236.5,314.2 L235.9,311.9 L235.6,309.6 L235.2,307.3 L234.8,305.0 L234.1,302.7 L234.1,300.5 L233.4,298.3 L234.5,296.0 L234.4,293.8 L234.1,291.6 L233.9,289.3 L233.7,287.0 L233.6,284.7 L233.2,282.4 L233.1,280.0 L234.4,277.9 L234.2,275.4 L235.0,273.2 L236.0,270.4 L237.8,268.1 L239.6,265.8 L240.3,263.4 L239.9,260.8 L240.6,258.4 L239.8,255.6 L238.4,253.0 L238.3,250.4 L236.9,248.3 L235.3,246.4 L233.8,244.5 L233.2,242.2 L233.0,239.9 L234.6,236.8 L236.5,234.5 L238.4,232.2 L240.9,230.1 L243.0,227.6 L244.1,224.6 L244.5,221.4 L244.7,218.4 L244.5,215.3 L243.9,212.2 L243.0,209.2 L242.0,206.2 L242.2,203.0 L242.9,200.8 L244.5,199.2 L246.7,197.7 L249.2,196.9 L251.4,196.2 L253.1,194.6 L255.3,193.8 L256.9,191.6 L258.4,189.2 L258.8,186.8 L259.8,184.8 L261.4,183.0 L262.7,180.5 L264.5,178.4 L265.7,176.5 L266.8,174.5 L267.6,172.3 L267.4,169.4 L266.8,166.5 L264.2,164.5 L262.0,162.0 L260.0,160.7 L258.0,159.6 L256.1,158.3 L253.8,156.8 L251.5,155.3 L248.9,154.2 L246.9,152.2 L246.2,149.7 L244.6,147.6 L243.4,145.7 L243.7,143.2 L242.3,141.4 L242.5,138.3 L241.5,135.3 L241.2,132.9 L242.3,130.7 L245.4,129.2 L248.4,126.0 L248.7,123.0 L249.2,120.0 L250.8,117.8 L251.5,115.3 L254.2,114.3 L256.1,112.3 L258.3,109.9 L260.7,107.6 L262.5,105.8 L264.6,104.6 L264.5,101.5 L265.3,98.4 L268.4,95.4 L270.7,94.9 L272.3,93.0 L274.5,92.3 L276.1,91.5 L278.5,90.0 Z" fill="none" stroke="#000" stroke-width="2.6" stroke-linejoin="round"/>
<circle cx="538.4" cy="239.3" r="3.0" fill="#1a4a8c" stroke="#000" stroke-width="1.8"/>
<g font-family="DejaVu Sans, sans-serif" font-size="13.6" text-anchor="middle" fill="#000" stroke="#d3e2f3" stroke-width="2.6" stroke-linejoin="round">
<text x="284.6" y="136.1">-8.2</text>
<text x="324.1" y="129.2">-8.5</text>
<text x="283.4" y="163.7">-7.9</text>
<text x="314.4" y="196.8">-9.2</text>
<text x="354.7" y="191.7">-7.6</text>
<text x="264.5" y="236.4">-7.2</text>
<text x="304.5" y="248.7">-7</text>
<text x="377.0" y="250.9">-6.8</text>
<text x="486.2" y="262.7">-8.9</text>
<text x="552.8" y="269.4">-8.6</text>
<text x="466.8" y="279.7">-8.3</text>
<text x="588.3" y="296.7">-7.1</text>
<text x="261.4" y="298.2">-7.7</text>
<text x="327.8" y="304.7">-7.2</text>
<text x="473.7" y="304.0">-8.2</text>
<text x="520.1" y="303.0">-7.9</text>
<text x="500.7" y="319.2">-8.8</text>
<text x="410.1" y="328.1">-7.1</text>
<text x="329.8" y="337.4">-6.9</text>
<text x="152.4" y="353.2">-6.8</text>
<text x="177.7" y="348.8">-6.6</text>
<text x="477.8" y="368.1">-7.1</text>
<text x="230.7" y="372.4">-6.5</text>
<text x="309.4" y="375.3">-6.4</text>
<text x="357.8" y="374.0">-6.7</text>
<text x="170.5" y="386.9">-7.3</text>
<text x="158.0" y="408.0">-6.8</text>
<text x="426.6" y="428.9">-5.7</text>
<text x="193.9" y="429.4">-8.5</text>
<text x="173.2" y="437.0">-6.8</text>
<text x="175.7" y="463.0">-6.4</text>
<text x="232.5" y="464.0">-4.9</text>
<text x="319.3" y="463.2">-6</text>
<text x="369.4" y="472.8">-5.9</text>
<text x="159.9" y="484.0">-5.7</text>
<text x="197.0" y="492.1">-7.6</text>
<text x="126.3" y="495.1">-6.9</text>
<text x="82.0" y="522.8">-5.9</text>
<text x="322.2" y="524.6">-5.6</text>
<text x="85.0" y="555.5">-6</text>
<text x="119.4" y="552.3">-6</text>
<text x="266.0" y="546.7">-5.4</text>
<text x="304.5" y="544.0">-5.6</text>
<text x="263.2" y="601.1">-6.9</text>
<text x="301.6" y="603.5">-6.7</text>
<text x="222.7" y="610.9">-6.2</text>
<text x="356.3" y="612.4">-5.6</text>
<text x="275.5" y="620.1">-7.3</text>
<text x="369.7" y="631.2">-6</text>
<text x="308.4" y="655.7">-6.8</text>
<text x="271.2" y="690.2">-6</text>
<text x="322.2" y="683.4">-7.1</text>
<text x="373.2" y="697.2">-7.8</text>
</g>
<g font-family="DejaVu Sans, sans-serif" font-size="13.6" text-anchor="middle" fill="#000" stroke="#000" stroke-width="0.6" stroke-linejoin="round">
<text x="284.6" y="136.1">-8.2</text>
<text x="324.1" y="129.2">-8.5</text>
<text x="283.4" y="163.7">-7.9</text>
<text x="314.4" y="196.8">-9.2</text>
<text x="354.7" y="191.7">-7.6</text>
<text x="264.5" y="236.4">-7.2</text>
<text x="304.5" y="248.7">-7</text>
<text x="377.0" y="250.9">-6.8</text>
<text x="486.2" y="262.7">-8.9</text>
<text x="552.8" y="269.4">-8.6</text>
<text x="466.8" y="279.7">-8.3</text>
<text x="588.3" y="296.7">-7.1</text>
<text x="261.4" y="298.2">-7.7</text>
<text x="327.8" y="304.7">-7.2</text>
<text x="473.7" y="304.0">-8.2</text>
<text x="520.1" y="303.0">-7.9</text>
<text x="500.7" y="319.2">-8.8</text>
<text x="410.1" y="328.1">-7.1</text>
<text x="329.8" y="337.4">-6.9</text>
<text x="152.4" y="353.2">-6.8</text>
<text x="177.7" y="348.8">-6.6</text>
<text x="477.8" y="368.1">-7.1</text>
<text x="230.7" y="372.4">-6.5</text>
<text x="309.4" y="375.3">-6.4</text>
<text x="357.8" y="374.0">-6.7</text>
<text x="170.5" y="386.9">-7.3</text>
<text x="158.0" y="408.0">-6.8</text>
<text x="426.6" y="428.9">-5.7</text>
<text x="193.9" y="429.4">-8.5</text>
<text x="173.2" y="437.0">-6.8</text>
<text x="175.7" y="463.0">-6.4</text>
<text x="232.5" y="464.0">-4.9</text>
<text x="319.3" y="463.2">-6</text>
<text x="369.4" y="472.8">-5.9</text>
<text x="159.9" y="484.0">-5.7</text>
<text x="197.0" y="492.1">-7.6</text>
<text x="126.3" y="495.1">-6.9</text>
<text x="82.0" y="522.8">-5.9</text>
<text x="322.2" y="524.6">-5.6</text>
<text x="85.0" y="555.5">-6</text>
<text x="119.4" y="552.3">-6</text>
<text x="266.0" y="546.7">-5.4</text>
<text x="304.5" y="544.0">-5.6</text>
<text x="263.2" y="601.1">-6.9</text>
<text x="301.6" y="603.5">-6.7</text>
<text x="222.7" y="610.9">-6.2</text>
<text x="356.3" y="612.4">-5.6</text>
<text x="275.5" y="620.1">-7.3</text>
<text x="369.7" y="631.2">-6</text>
<text x="308.4" y="655.7">-6.8</text>
<text x="271.2" y="690.2">-6</text>
<text x="322.2" y="683.4">-7.1</text>
<text x="373.2" y="697.2">-7.8</text>
</g>
<g fill="#000">
<circle cx="285.9" cy="141.9" r="2.1"/>
<circle cx="325.4" cy="135" r="2.1"/>
<circle cx="284.7" cy="169.5" r="2.1"/>
<circle cx="315.7" cy="202.6" r="2.1"/>
<circle cx="356" cy="197.5" r="2.1"/>
<circle cx="265.8" cy="242.2" r="2.1"/>
<circle cx="305.8" cy="254.5" r="2.1"/>
<circle cx="378.3" cy="256.7" r="2.1"/>
<circle cx="554.1" cy="275.2" r="2.1"/>
<circle cx="468.1" cy="285.5" r="2.1"/>
<circle cx="262.7" cy="304" r="2.1"/>
<circle cx="329.1" cy="310.5" r="2.1"/>
<circle cx="475" cy="309.8" r="2.1"/>
<circle cx="521.4" cy="308.8" r="2.1"/>
<circle cx="502" cy="325" r="2.1"/>
<circle cx="411.4" cy="333.9" r="2.1"/>
<circle cx="331.1" cy="343.2" r="2.1"/>
<circle cx="153.7" cy="359" r="2.1"/>
<circle cx="179" cy="354.6" r="2.1"/>
<circle cx="479.1" cy="373.9" r="2.1"/>
<circle cx="232" cy="378.2" r="2.1"/>
<circle cx="310.7" cy="381.1" r="2.1"/>
<circle cx="359.1" cy="379.8" r="2.1"/>
<circle cx="171.8" cy="392.7" r="2.1"/>
<circle cx="159.3" cy="413.8" r="2.1"/>
<circle cx="427.9" cy="434.7" r="2.1"/>
<circle cx="195.2" cy="435.2" r="2.1"/>
<circle cx="174.5" cy="442.8" r="2.1"/>
<circle cx="177" cy="468.8" r="2.1"/>
<circle cx="233.8" cy="469.8" r="2.1"/>
<circle cx="320.6" cy="469" r="2.1"/>
<circle cx="370.7" cy="478.6" r="2.1"/>
<circle cx="161.2" cy="489.8" r="2.1"/>
<circle cx="198.3" cy="497.9" r="2.1"/>
<circle cx="127.6" cy="500.9" r="2.1"/>
<circle cx="83.3" cy="528.6" r="2.1"/>
<circle cx="323.5" cy="530.4" r="2.1"/>
<circle cx="86.3" cy="561.3" r="2.1"/>
<circle cx="120.7" cy="558.1" r="2.1"/>
<circle cx="267.3" cy="552.5" r="2.1"/>
<circle cx="305.8" cy="549.8" r="2.1"/>
<circle cx="264.5" cy="606.9" r="2.1"/>
<circle cx="302.9" cy="609.3" r="2.1"/>
<circle cx="224" cy="616.7" r="2.1"/>
<circle cx="357.6" cy="618.2" r="2.1"/>
<circle cx="276.8" cy="625.9" r="2.1"/>
<circle cx="309.7" cy="661.5" r="2.1"/>
<circle cx="272.5" cy="696" r="2.1"/>
<circle cx="323.5" cy="689.2" r="2.1"/>
<circle cx="374.5" cy="703" r="2.1"/>
</g>
<g stroke="#222" stroke-width="1">
<rect x="574" y="365.00" width="27" height="17.31" fill="#f21c08"/>
<rect x="574" y="382.31" width="27" height="17.31" fill="#fd6a0c"/>
<rect x="574" y="399.62" width="27" height="17.31" fill="#f5a18e"/>
<rect x="574" y="416.94" width="27" height="17.31" fill="#fdd5ab"/>
<rect x="574" y="434.25" width="27" height="17.31" fill="#fef5cc"/>
<rect x="574" y="451.56" width="27" height="17.31" fill="#fdf08e"/>
<rect x="574" y="468.88" width="27" height="17.31" fill="#b9ec7d"/>
<rect x="574" y="486.19" width="27" height="17.31" fill="#d4f8cc"/>
<rect x="574" y="503.50" width="27" height="17.31" fill="#f1fbee"/>
<rect x="574" y="520.81" width="27" height="17.31" fill="#d6f6fd"/>
<rect x="574" y="538.12" width="27" height="17.31" fill="#b0ddf7"/>
<rect x="574" y="555.44" width="27" height="17.31" fill="#7ec4f6"/>
<rect x="574" y="572.75" width="27" height="17.31" fill="#3896f0"/>
<rect x="574" y="590.06" width="27" height="17.31" fill="#1d70e0"/>
<rect x="574" y="607.38" width="27" height="17.31" fill="#1a5cb4"/>
<rect x="574" y="624.69" width="27" height="17.31" fill="#07358f"/>
</g>
<g font-family="DejaVu Sans, sans-serif" font-weight="bold" font-size="11" fill="#111">
<text x="608" y="377.8">40</text>
<text x="608" y="395.2">37</text>
<text x="608" y="412.7">35</text>
<text x="608" y="430.1">32</text>
<text x="608" y="447.6">28</text>
<text x="608" y="465.0">24</text>
<text x="608" y="482.4">20</text>
<text x="608" y="499.9">16</text>
<text x="608" y="517.3">12</text>
<text x="608" y="534.8">8</text>
<text x="608" y="552.2">4</text>
<text x="608" y="569.6">0</text>
<text x="608" y="587.1">-4</text>
<text x="608" y="604.5">-8</text>
<text x="608" y="622.0">-12</text>
</g>
<text x="574" y="659" font-family="'Liberation Sans', 'Noto Sans CJK SC', sans-serif" font-weight="bold" font-size="11" fill="#111">单位:°C</text>
</svg>
<div class="t1">武汉市最低气温最大变幅<span class="p">(</span>降温<span class="p">)</span>预报图</div>
<div class="t2"><span class="d">2024</span>年<span class="d">11</span>月<span class="d">24</span>日<span class="d">08</span>时<span class="d" style="letter-spacing:3px;margin-left:1px">-</span><span class="d">2024</span>年<span class="d">11</span>月<span class="d">28</span>日<span class="d">08</span>时</div>
<div class="b1">武汉市气象台</div>
<div class="b2"><span class="d2">2024</span>年<span class="d2">11</span>月<span class="d2">24</span>日<span class="d2">17</span>时发布</div>
</body></html>
